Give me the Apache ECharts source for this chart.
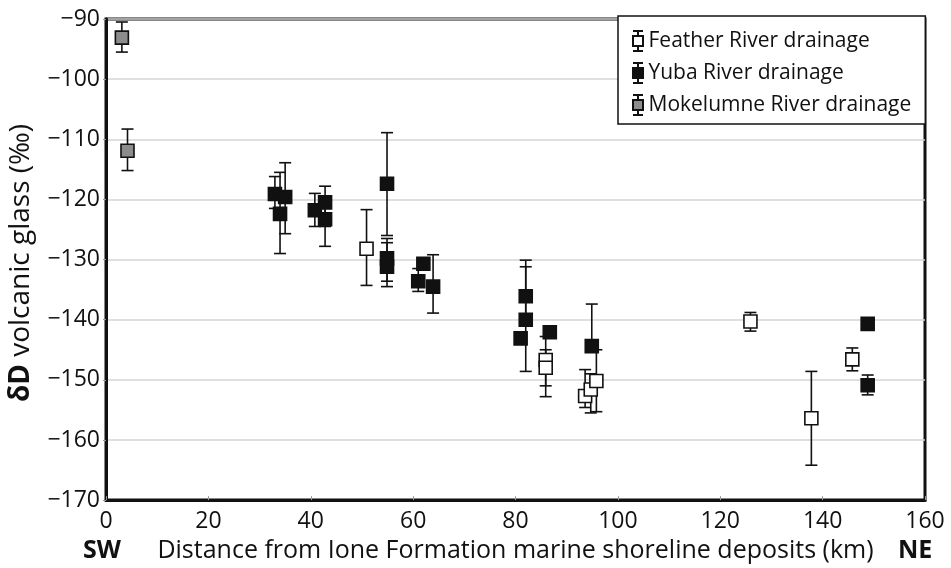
<!DOCTYPE html>
<html><head><meta charset="utf-8">
<script src="https://cdn.jsdelivr.net/npm/echarts@6/dist/echarts.min.js"></script>
<style>html,body{margin:0;padding:0;background:#fff}#c{width:951px;height:568px}</style>
</head><body><div id="c"></div>
<script>
// ---- data ----
const xTicks = [0, 20, 40, 60, 80, 100, 120, 140, 160];
const yTicks = [-170, -160, -150, -140, -130, -120, -110, -100, -90];

const featherX  = [50.9, 85.9, 85.9, 93.6, 94.7, 95.8, 125.9, 137.8, 145.8];
const featherY  = [-128.2, -146.7, -148.0, -152.7, -151.6, -150.2, -140.3, -156.4, -146.6];
const featherLo = [-134.3, -151.0, -152.8, -154.6, -155.5, -155.3, -141.9, -164.2, -148.5];
const featherHi = [-121.7, -142.8, -145.0, -148.3, -149.0, -145.0, -138.8, -148.6, -144.7];

const yubaX  = [33.0, 34.0, 35.0, 40.8, 42.8, 42.8, 54.9, 54.9, 54.9, 61.0, 62.0, 63.9, 82.0, 82.0, 81.0, 86.7, 94.9, 148.8, 148.8];
const yubaY  = [-119.1, -122.4, -119.6, -121.8, -120.5, -123.3, -117.4, -129.8, -131.2, -133.6, -130.7, -134.5, -136.1, -140.0, -143.1, -142.1, -144.4, -140.7, -150.9];
const yubaLo = [-121.5, -129.0, -125.7, -124.5, -124.5, -127.8, -126.0, -133.6, -134.5, -135.3, -131.3, -138.9, -141.0, -148.6, -144.0, -142.6, -145.0, -141.2, -152.5];
const yubaHi = [-116.2, -115.5, -113.9, -119.0, -117.8, -120.0, -108.9, -126.5, -127.2, -131.5, -130.1, -129.2, -130.1, -131.2, -142.2, -141.6, -137.4, -140.2, -149.2];

const mokX  = [3.1, 4.2];
const mokY  = [-93.1, -111.9];
const mokLo = [-95.5, -115.2];
const mokHi = [-90.5, -108.3];

const seriesNames = ['Feather River drainage', 'Yuba River drainage', 'Mokelumne River drainage'];

// ---- build ----
const FONT = '"Open Sans", "Noto Sans", sans-serif';
const pts = (xs, ys) => xs.map((x, i) => [x, ys[i]]);
const errs = (xs, lo, hi) => xs.map((x, i) => [x, lo[i], hi[i]]);

function renderErr(params, api) {
  const x = api.value(0), lo = api.value(1), hi = api.value(2);
  const a = api.coord([x, hi]), b = api.coord([x, lo]);
  const w = 6;
  const st = { stroke: '#111', lineWidth: 1.6 };
  return { type: 'group', children: [
    { type: 'line', shape: { x1: a[0], y1: a[1], x2: b[0], y2: b[1] }, style: st },
    { type: 'line', shape: { x1: a[0] - w, y1: a[1], x2: a[0] + w, y2: a[1] }, style: st },
    { type: 'line', shape: { x1: b[0] - w, y1: b[1], x2: b[0] + w, y2: b[1] }, style: st }
  ]};
}
const iconPath = 'path://M0,0L10,0M5,0L5,5M0,5L10,5L10,15L0,15ZM5,15L5,20M0,20L10,20';

function errSeries(name, data) {
  return { type: 'custom', name: name + ' err', renderItem: renderErr, data: data,
    encode: { x: 0, y: [1, 2] }, z: 2, silent: true };
}
function scatSeries(name, data, fill) {
  return { type: 'scatter', name: name, data: data, symbol: 'rect', symbolSize: 13, z: 3,
    itemStyle: { color: fill, borderColor: '#111', borderWidth: 1.6, opacity: 1 } };
}

const chart = echarts.init(document.getElementById('c'));
chart.setOption({
  backgroundColor: '#fff',
  animation: false,
  grid: { left: 106, right: 26, top: 19, bottom: 65, show: true, borderColor: '#111', borderWidth: 3, backgroundColor: 'transparent' },
  legend: {
    orient: 'vertical', left: 618, top: 16,
    data: seriesNames.map(n => ({ name: n, icon: iconPath })),
    itemWidth: 11, itemHeight: 20, itemGap: 10,
    padding: [14, 14, 8, 14],
    borderColor: '#111', borderWidth: 1.5, backgroundColor: '#fff',
    textStyle: { fontFamily: FONT, fontSize: 21, color: '#111' }
  },
  xAxis: {
    type: 'value', min: 0, max: 160, interval: 20,
    name: 'Distance from Ione Formation marine shoreline deposits (km)',
    nameLocation: 'middle', nameGap: 37,
    nameTextStyle: { fontFamily: FONT, fontSize: 25, color: '#111' },
    axisLine: { show: true, onZero: false, lineStyle: { color: '#111', width: 3 } },
    axisTick: { show: true, inside: true, length: 4, lineStyle: { color: '#999' } },
    axisLabel: { fontFamily: FONT, fontSize: 23, color: '#111', margin: 10,
      formatter: v => xTicks.includes(v) ? String(v) : '' },
    splitLine: { show: false }
  },
  yAxis: {
    type: 'value', min: -170, max: -90, interval: 10,
    axisLine: { show: true, onZero: false, lineStyle: { color: '#111', width: 3 } },
    axisTick: { show: true, length: 3, lineStyle: { color: '#999' } },
    axisLabel: { fontFamily: FONT, fontSize: 23, color: '#111', margin: 6,
      formatter: v => yTicks.includes(v) ? String(v).replace('-', '\u2212') : '' },
    splitLine: { show: true, lineStyle: { color: '#d4d4d4', width: 1.5 } }
  },
  graphic: [
    { type: 'text', x: 21, y: 263, rotation: Math.PI / 2,
      style: { text: '{b|δD} volcanic glass (‰)', fontFamily: FONT, fontSize: 28, fill: '#111',
        align: 'center', verticalAlign: 'middle',
        rich: { b: { fontFamily: FONT, fontSize: 28, fontWeight: 'bold', fill: '#111' } } } },
    { type: 'text', left: 106 - 23, top: 538, style: { text: 'SW', fontFamily: FONT, fontSize: 25, fontWeight: 'bold', fill: '#111' } },
    { type: 'text', left: 898, top: 538, style: { text: 'NE', fontFamily: FONT, fontSize: 25, fontWeight: 'bold', fill: '#111' } }
  ],
  series: [
    errSeries(seriesNames[0], errs(featherX, featherLo, featherHi)),
    errSeries(seriesNames[1], errs(yubaX, yubaLo, yubaHi)),
    errSeries(seriesNames[2], errs(mokX, mokLo, mokHi)),
    scatSeries(seriesNames[1], pts(yubaX, yubaY), '#111'),
    scatSeries(seriesNames[0], pts(featherX, featherY), '#fff'),
    scatSeries(seriesNames[2], pts(mokX, mokY), '#8c8c8c')
  ]
});
</script>
</body></html>
